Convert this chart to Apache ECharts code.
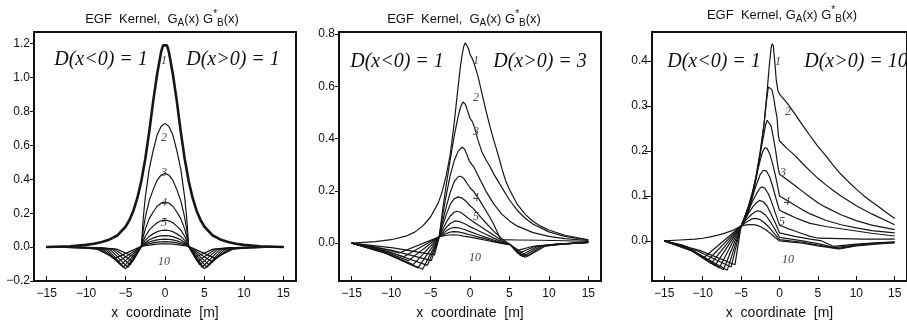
<!DOCTYPE html>
<html>
<head>
<meta charset="utf-8">
<script src="https://cdn.jsdelivr.net/npm/echarts@6/dist/echarts.min.js"></script>
<style>
  html, body { margin: 0; padding: 0; background: #fff; }
  #chart { width: 907px; height: 325px; }
</style>
</head>
<body>
<div id="chart"></div>
<script>
// ---- tick values ----
const xTicks = [-15, -10, -5, 0, 5, 10, 15];
const yTicksD1 = [-0.2, 0, 0.2, 0.4, 0.6, 0.8, 1.0, 1.2];
const yTicksD3 = [0, 0.2, 0.4, 0.6, 0.8];
const yTicksD10 = [0, 0.1, 0.2, 0.3, 0.4];

// ---- kernel curves, D(x>0) = 1 : [x, value] ----
const curvesD1 = [
  [[-15,0.001],[-12,0.005],[-10,0.013],[-9,0.02],[-8,0.03],[-7,0.045],[-6,0.07],[-5,0.12],[-4.5,0.16],[-4,0.215],[-3.5,0.29],[-3,0.39],[-2.5,0.52],[-2,0.68],[-1.5,0.86],[-1,1.02],[-0.5,1.15],[-0.25,1.19],[0,1.2],[0.25,1.19],[0.5,1.15],[1,1.02],[1.5,0.86],[2,0.68],[2.5,0.52],[3,0.39],[3.5,0.29],[4,0.215],[4.5,0.16],[5,0.12],[6,0.07],[7,0.045],[8,0.03],[9,0.02],[10,0.013],[12,0.005],[15,0.001]],
  [[-15,0],[-8.4,-0.003],[-6.1,-0.012],[-3.8,-0.06],[-3,0.004],[-2.75,0.175],[-2.5,0.292],[-2,0.46],[-1.5,0.569],[-1,0.661],[-0.5,0.712],[0,0.73],[0.5,0.712],[1,0.661],[1.5,0.569],[2,0.46],[2.5,0.292],[2.75,0.175],[3,0.004],[3.8,-0.06],[6.1,-0.012],[8.4,-0.003],[15,0]],
  [[-15,0],[-8.7,-0.003],[-6.4,-0.012],[-4.1,-0.085],[-3,0.004],[-2.75,0.104],[-2.5,0.174],[-2,0.274],[-1.5,0.339],[-1,0.394],[-0.5,0.424],[0,0.435],[0.5,0.424],[1,0.394],[1.5,0.339],[2,0.274],[2.5,0.174],[2.75,0.104],[3,0.004],[4.1,-0.085],[6.4,-0.012],[8.7,-0.003],[15,0]],
  [[-15,0],[-9,-0.003],[-6.7,-0.012],[-4.4,-0.105],[-3,0.004],[-2.75,0.064],[-2.5,0.106],[-2,0.168],[-1.5,0.207],[-1,0.241],[-0.5,0.259],[0,0.266],[0.5,0.259],[1,0.241],[1.5,0.207],[2,0.168],[2.5,0.106],[2.75,0.064],[3,0.004],[4.4,-0.105],[6.7,-0.012],[9,-0.003],[15,0]],
  [[-15,0],[-9.3,-0.003],[-7,-0.012],[-4.7,-0.12],[-3,0.004],[-2.75,0.038],[-2.5,0.064],[-2,0.1],[-1.5,0.124],[-1,0.144],[-0.5,0.155],[0,0.159],[0.5,0.155],[1,0.144],[1.5,0.124],[2,0.1],[2.5,0.064],[2.75,0.038],[3,0.004],[4.7,-0.12],[7,-0.012],[9.3,-0.003],[15,0]],
  [[-15,0],[-9.6,-0.003],[-7.3,-0.012],[-5,-0.128],[-3,0.004],[-2.75,0.024],[-2.5,0.04],[-2,0.063],[-1.5,0.078],[-1,0.091],[-0.5,0.098],[0,0.1],[0.5,0.098],[1,0.091],[1.5,0.078],[2,0.063],[2.5,0.04],[2.75,0.024],[3,0.004],[5,-0.128],[7.3,-0.012],[9.6,-0.003],[15,0]],
  [[-15,0],[-9.9,-0.003],[-7.6,-0.012],[-5.3,-0.12],[-3,0.004],[-2.75,0.017],[-2.5,0.027],[-2,0.043],[-1.5,0.053],[-1,0.062],[-0.5,0.066],[0,0.068],[0.5,0.066],[1,0.062],[1.5,0.053],[2,0.043],[2.5,0.027],[2.75,0.017],[3,0.004],[5.3,-0.12],[7.6,-0.012],[9.9,-0.003],[15,0]],
  [[-15,0],[-10.2,-0.003],[-7.9,-0.012],[-5.6,-0.105],[-3,0.004],[-2.75,0.012],[-2.5,0.019],[-2,0.03],[-1.5,0.037],[-1,0.043],[-0.5,0.046],[0,0.047],[0.5,0.046],[1,0.043],[1.5,0.037],[2,0.03],[2.5,0.019],[2.75,0.012],[3,0.004],[5.6,-0.105],[7.9,-0.012],[10.2,-0.003],[15,0]],
  [[-15,0],[-10.5,-0.003],[-8.2,-0.012],[-5.9,-0.085],[-3,0.004],[-2.75,0.009],[-2.5,0.013],[-2,0.02],[-1.5,0.025],[-1,0.029],[-0.5,0.031],[0,0.032],[0.5,0.031],[1,0.029],[1.5,0.025],[2,0.02],[2.5,0.013],[2.75,0.009],[3,0.004],[5.9,-0.085],[8.2,-0.012],[10.5,-0.003],[15,0]],
  [[-15,0],[-10.9,-0.003],[-8.6,-0.012],[-6.3,-0.065],[-3,0.004],[-2.75,0.006],[-2.5,0.008],[-2,0.012],[-1.5,0.015],[-1,0.017],[-0.5,0.019],[0,0.019],[0.5,0.019],[1,0.017],[1.5,0.015],[2,0.012],[2.5,0.008],[2.75,0.006],[3,0.004],[6.3,-0.065],[8.6,-0.012],[10.9,-0.003],[15,0]]
];

// ---- kernel curves, D(x>0) = 3 ----
const curvesD3 = [
  [[-15,0],[-12,0.006],[-10,0.013],[-8,0.028],[-7,0.042],[-6,0.065],[-5,0.1],[-4,0.155],[-3.5,0.2],[-3,0.26],[-2.5,0.34],[-2,0.46],[-1.5,0.6],[-1.2,0.68],[-1,0.72],[-0.8,0.752],[-0.6,0.767],[-0.4,0.762],[-0.2,0.745],[0,0.722],[0.2,0.712],[0.5,0.69],[1,0.64],[1.5,0.575],[2,0.51],[2.5,0.45],[3,0.395],[3.5,0.345],[4,0.29],[4.5,0.24],[5,0.205],[6,0.148],[7,0.11],[8,0.083],[9,0.064],[10,0.05],[12,0.03],[15,0.013]],
  [[-15,0],[-9.75,-0.018],[-4.5,-0.045],[-3.9,0.024],[-3.5,0.12],[-3,0.225],[-2.5,0.32],[-2,0.41],[-1.5,0.485],[-1.2,0.52],[-0.9,0.54],[-0.6,0.532],[-0.3,0.505],[0,0.478],[0.3,0.465],[0.6,0.44],[1,0.395],[1.5,0.35],[2,0.32],[2.5,0.295],[3,0.265],[3.8,0.225],[5,0.165],[6,0.125],[7,0.095],[8,0.072],[10,0.043],[12,0.026],[15,0.012]],
  [[-15,0],[-10,-0.027],[-4.9,-0.067],[-3.9,0.024],[-3.5,0.1],[-3,0.185],[-2.5,0.26],[-2,0.315],[-1.5,0.352],[-1,0.367],[-0.7,0.36],[-0.4,0.34],[-0.1,0.315],[0.2,0.302],[0.5,0.29],[1,0.26],[1.5,0.23],[2,0.2],[3,0.15],[4,0.112],[5,0.085],[6,0.065],[8,0.04],[10,0.026],[12,0.017],[15,0.01]],
  [[-15,0],[-10.2,-0.034],[-5.4,-0.085],[-3.9,0.024],[-3.5,0.08],[-3,0.14],[-2.5,0.195],[-2,0.235],[-1.5,0.254],[-1.2,0.256],[-0.8,0.248],[-0.4,0.23],[0,0.212],[0.4,0.2],[1,0.175],[1.5,0.15],[2,0.125],[2.5,0.1],[3,0.072],[3.5,0.04],[3.9,0.013],[6,0.012],[9,0.011],[12,0.009],[15,0.007]],
  [[-15,0],[-10.5,-0.04],[-6,-0.1],[-3.9,0.024],[-3.5,0.065],[-3,0.11],[-2.5,0.148],[-2,0.17],[-1.5,0.177],[-1,0.172],[-0.5,0.16],[0,0.143],[0.4,0.133],[1,0.112],[1.5,0.095],[2,0.078],[2.5,0.062],[3,0.046],[4,0.018],[5.1,-0.006],[5.8,-0.03],[8,-0.012],[11,-0.004],[15,0.003]],
  [[-15,0],[-10.8,-0.038],[-6.6,-0.095],[-3.9,0.024],[-3.5,0.05],[-3,0.08],[-2.5,0.104],[-2,0.118],[-1.7,0.122],[-1.2,0.118],[-0.6,0.105],[0,0.09],[0.5,0.08],[1,0.07],[2,0.05],[3,0.03],[4,0.01],[5.1,-0.006],[6.1,-0.04],[8.3,-0.012],[11,-0.004],[15,0.003]],
  [[-15,0],[-11.1,-0.033],[-7.2,-0.082],[-3.9,0.024],[-3.5,0.04],[-3,0.06],[-2.5,0.075],[-1.9,0.085],[-1.3,0.082],[-0.6,0.073],[0,0.063],[1,0.048],[2,0.034],[3,0.019],[4,0.005],[5.1,-0.006],[6.4,-0.048],[8.6,-0.012],[11.2,-0.004],[15,0.003]],
  [[-15,0],[-11.4,-0.027],[-7.8,-0.067],[-3.9,0.024],[-3.5,0.034],[-3,0.047],[-2.5,0.056],[-2,0.06],[-1.4,0.058],[-0.7,0.052],[0,0.044],[1,0.033],[2,0.022],[3,0.012],[4,0.002],[5.1,-0.006],[6.7,-0.052],[8.9,-0.012],[11.4,-0.004],[15,0.003]],
  [[-15,0],[-11.7,-0.021],[-8.4,-0.052],[-3.9,0.024],[-3.5,0.03],[-3,0.037],[-2.5,0.042],[-2.1,0.044],[-1.5,0.043],[-0.8,0.038],[0,0.032],[1,0.024],[2,0.016],[3,0.008],[4,0],[5.1,-0.006],[7,-0.054],[9.2,-0.012],[11.6,-0.004],[15,0.003]],
  [[-15,0],[-12,-0.015],[-9,-0.038],[-3.9,0.024],[-3.5,0.027],[-3,0.03],[-2.2,0.032],[-1.5,0.031],[-0.8,0.027],[0,0.023],[1,0.017],[2,0.011],[3,0.005],[4,-0.001],[5.1,-0.006],[7.3,-0.05],[9.5,-0.012],[11.8,-0.004],[15,0.003]]
];

// ---- kernel curves, D(x>0) = 10 ----
const curvesD10 = [
  [[-15,0],[-13,0.002],[-11,0.004],[-10,0.006],[-9,0.009],[-8,0.013],[-7,0.018],[-6,0.024],[-5,0.033],[-4.5,0.047],[-4,0.066],[-3.5,0.098],[-3,0.142],[-2.5,0.195],[-2,0.262],[-1.6,0.335],[-1.3,0.395],[-1.1,0.428],[-0.95,0.438],[-0.8,0.433],[-0.63,0.4],[-0.42,0.357],[-0.2,0.333],[0,0.326],[0.5,0.316],[1,0.306],[2,0.282],[3,0.257],[4,0.233],[5,0.21],[6,0.19],[7,0.168],[8,0.148],[9,0.131],[10,0.115],[11,0.1],[12,0.087],[13,0.075],[14,0.062],[15,0.05]],
  [[-15,0],[-10.4,-0.021],[-5.8,-0.053],[-5,0.033],[-4.5,0.05],[-4,0.072],[-3.5,0.105],[-3,0.148],[-2.5,0.2],[-2,0.26],[-1.7,0.31],[-1.45,0.342],[-1.25,0.346],[-1,0.336],[-0.76,0.319],[-0.5,0.29],[-0.33,0.275],[-0.15,0.235],[0,0.222],[1,0.205],[2,0.19],[3,0.172],[4,0.155],[5,0.139],[6,0.125],[7,0.112],[8,0.1],[10,0.078],[12,0.06],[15,0.036]],
  [[-15,0],[-10.6,-0.023],[-6.3,-0.058],[-5,0.033],[-4.5,0.052],[-4,0.077],[-3.5,0.108],[-3,0.148],[-2.5,0.195],[-2,0.24],[-1.8,0.258],[-1.6,0.268],[-1.4,0.268],[-1.1,0.255],[-0.8,0.23],[-0.5,0.2],[-0.2,0.165],[0,0.148],[1,0.136],[2,0.123],[3,0.11],[4,0.097],[5,0.085],[6,0.075],[8,0.058],[10,0.045],[12,0.035],[15,0.025]],
  [[-15,0],[-10.9,-0.025],[-6.8,-0.065],[-5,0.033],[-4.5,0.055],[-4,0.08],[-3.5,0.11],[-3,0.145],[-2.5,0.18],[-2.2,0.198],[-1.9,0.207],[-1.6,0.205],[-1.2,0.19],[-0.8,0.165],[-0.4,0.135],[0,0.1],[1,0.09],[2,0.079],[3,0.069],[4,0.06],[6,0.046],[8,0.036],[10,0.029],[12,0.023],[15,0.018]],
  [[-15,0],[-11.1,-0.024],[-7.3,-0.064],[-5,0.033],[-4.5,0.055],[-4,0.078],[-3.5,0.1],[-3,0.125],[-2.5,0.148],[-2.1,0.157],[-1.7,0.155],[-1.3,0.143],[-0.9,0.122],[-0.5,0.097],[0,0.068],[1,0.06],[2,0.052],[3,0.045],[4,0.039],[6,0.032],[8,0.027],[10,0.022],[12,0.017],[15,0.011]],
  [[-15,0],[-11.4,-0.021],[-7.85,-0.06],[-5,0.033],[-4.5,0.052],[-4,0.07],[-3.5,0.088],[-3,0.105],[-2.6,0.116],[-2.3,0.12],[-1.9,0.117],[-1.4,0.103],[-0.9,0.08],[-0.4,0.055],[0,0.035],[1,0.028],[2,0.022],[3,0.016],[4,0.01],[5.1,0.006],[8,0.005],[11,0.004],[15,0.004]],
  [[-15,0],[-11.7,-0.018],[-8.4,-0.055],[-5,0.033],[-4.5,0.048],[-4,0.062],[-3.5,0.075],[-3,0.085],[-2.6,0.09],[-2.1,0.087],[-1.6,0.077],[-1.1,0.06],[-0.5,0.038],[0,0.018],[2,0.01],[4,0.004],[5.5,0],[7,-0.012],[10,-0.007],[12.5,-0.004],[15,-0.002]],
  [[-15,0],[-12,-0.015],[-8.9,-0.05],[-5,0.033],[-4.5,0.044],[-4,0.053],[-3.5,0.061],[-2.9,0.067],[-2.4,0.065],[-1.8,0.057],[-1.2,0.043],[-0.6,0.026],[0,0.008],[3,0],[5,-0.006],[7.2,-0.015],[10,-0.009],[12.5,-0.005],[15,-0.003]],
  [[-15,0],[-12.2,-0.012],[-9.4,-0.044],[-5,0.033],[-4.5,0.04],[-4,0.045],[-3.6,0.049],[-3.2,0.05],[-2.6,0.048],[-2,0.041],[-1.4,0.031],[-0.7,0.017],[0,0.003],[3,-0.003],[5,-0.009],[7.5,-0.017],[10,-0.01],[12.5,-0.006],[15,-0.004]],
  [[-15,0],[-12.5,-0.01],[-9.9,-0.038],[-5,0.033],[-4.5,0.035],[-4,0.036],[-3.5,0.036],[-3,0.035],[-2.4,0.031],[-1.8,0.025],[-1.2,0.017],[-0.6,0.008],[0,0],[3,-0.005],[5,-0.011],[7.8,-0.018],[10,-0.011],[12.5,-0.007],[15,-0.004]]
];

const curveNumbers = ['1', '2', '3', '4', '5', '10'];
const leftMedium = ['D(x<0) = 1', 'D(x<0) = 1', 'D(x<0) = 1'];
const rightMedium = ['D(x>0) = 1', 'D(x>0) = 3', 'D(x>0) = 10'];

// ---- layout of the three frames ----
const panels = [
  { curves: curvesD1, yTicks: yTicksD1, yMin: -0.2, yMax: 1.269,
    grid: { left: 34, top: 32, width: 262, height: 261 }, tickLen: 4,
    titleAt: [162, 19], titleGap: '  ',
    textAt: [[101, 60], [233, 60]],
    numAt: [[164, 61], [164, 138], [164, 173], [164, 203], [164, 223], [164, 262]] },
  { curves: curvesD3, yTicks: yTicksD3, yMin: -0.145, yMax: 0.808,
    grid: { left: 339, top: 32, width: 262, height: 261 }, tickLen: 4,
    titleAt: [464, 19], titleGap: '  ',
    textAt: [[397, 62], [540, 62]],
    numAt: [[476, 61], [476, 98], [476, 132], [476, 198], [476, 217], [475, 258]] },
  { curves: curvesD10, yTicks: yTicksD10, yMin: -0.089, yMax: 0.464,
    grid: { left: 652, top: 32, width: 262, height: 260 }, tickLen: 7,
    titleAt: [782, 15], titleGap: ' ',
    textAt: [[714, 62], [856, 62]],
    numAt: [[778, 62], [788, 112], [783, 173], [787, 202], [782, 222], [788, 260]] }
];

const SANS = '"Liberation Sans", Arial, sans-serif';
const SERIF = '"Liberation Serif", "Times New Roman", serif';
const INK = '#111';
const minus = s => String(s).replace('-', '\u2212');

const grids = [], xAxes = [], yAxes = [], series = [], graphics = [];

panels.forEach((p, i) => {
  grids.push(Object.assign({ show: true, borderColor: '#111', borderWidth: 2, backgroundColor: 'transparent' }, p.grid));
  xAxes.push({
    type: 'value', gridIndex: i, min: -16.6, max: 16.6, position: 'bottom',
    axisLine: { show: false, onZero: false },
    axisTick: { show: true, inside: true, length: 5, customValues: xTicks, lineStyle: { color: INK, width: 1 } },
    axisLabel: { customValues: xTicks, formatter: v => minus(v), fontSize: 12, fontFamily: SANS, color: INK, margin: 7 },
    splitLine: { show: false },
    name: 'x  coordinate  [m]', nameLocation: 'middle', nameGap: 25,
    nameTextStyle: { fontSize: 14, fontFamily: SANS, color: INK }
  });
  yAxes.push({
    type: 'value', gridIndex: i, min: p.yMin, max: p.yMax, position: 'left',
    axisLine: { show: false, onZero: false },
    axisTick: { show: true, inside: false, length: p.tickLen, customValues: p.yTicks, lineStyle: { color: INK, width: 1 } },
    axisLabel: { customValues: p.yTicks, formatter: v => minus(Number(v).toFixed(1)), fontSize: 12, fontFamily: SANS, color: INK, margin: 4 },
    splitLine: { show: false }
  });
  p.curves.forEach((c, k) => {
    series.push({
      type: 'line', xAxisIndex: i, yAxisIndex: i, data: c,
      symbol: 'none', silent: true, clip: true,
      lineStyle: { color: '#161616', width: (i === 0 && k === 0) ? 2.6 : 1.2 }
    });
  });
  // panel heading
  graphics.push({
    type: 'text', x: p.titleAt[0], y: p.titleAt[1], z: 100,
    style: {
      text: '{n|EGF  Kernel,' + p.titleGap + 'G}{s|A}{n|(x) G}{p|*}{s|B}{n|(x)}',
      align: 'center', verticalAlign: 'middle',
      rich: {
        n: { fontSize: 13, fontFamily: SANS, fill: INK, lineHeight: 19, verticalAlign: 'middle' },
        s: { fontSize: 10, fontFamily: SANS, fill: INK, lineHeight: 19, verticalAlign: 'bottom' },
        p: { fontSize: 10, fontFamily: SANS, fill: INK, lineHeight: 19, verticalAlign: 'top' }
      }
    }
  });
  // medium labels
  [leftMedium[i], rightMedium[i]].forEach((t, j) => {
    graphics.push({
      type: 'text', x: p.textAt[j][0], y: p.textAt[j][1], z: 100,
      style: { text: t, font: 'italic 20px ' + SERIF, fill: '#111', align: 'center', verticalAlign: 'middle' }
    });
  });
  // curve numbers
  curveNumbers.forEach((t, j) => {
    graphics.push({
      type: 'text', x: p.numAt[j][0], y: p.numAt[j][1], z: 100,
      style: { text: t, font: 'italic 12px ' + SERIF, fill: '#444', align: 'center', verticalAlign: 'middle' }
    });
  });
});

const chart = echarts.init(document.getElementById('chart'), null, { renderer: 'canvas' });
chart.setOption({
  animation: false,
  backgroundColor: '#fff',
  grid: grids,
  xAxis: xAxes,
  yAxis: yAxes,
  series: series,
  graphic: graphics
});
</script>
</body>
</html>
